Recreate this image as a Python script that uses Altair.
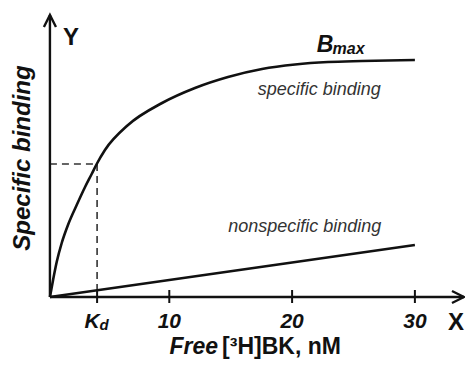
import altair as alt
import pandas as pd

# ---- data ----
spec_x = [0.28, 0.55, 0.83, 1.24, 1.78, 2.46, 3.14, 3.68, 4.09, 4.76, 6.64, 9.41, 12.09, 14.78, 17.55, 20.24, 22.92, 25.69, 30.0]
spec_y = [0, 18, 35, 54, 73, 92, 110, 123, 133, 147, 172, 194, 209, 220, 228, 232.5, 235, 236, 237]
nonspec_x = [0.28, 30.0]
nonspec_y = [0, 52]
tick_values = [10, 20, 30]
tick_labels = ["10", "20", "30"]
kd_value = 4.12
half_bmax = 133
axis_origin = 0.28
x_axis_end = 34.0
y_axis_end = 282

FONT = "Liberation Sans"
INK = "#111111"

XS = alt.Scale(domain=[-3.135, 34.08])
YS = alt.Scale(domain=[-64, 289])


def X(f="x"):
    return alt.X(f"{f}:Q", scale=XS, axis=None)


def Y(f="y"):
    return alt.Y(f"{f}:Q", scale=YS, axis=None)


# curves
spec_df = pd.DataFrame({"x": spec_x, "y": spec_y})
nonspec_df = pd.DataFrame({"x": nonspec_x, "y": nonspec_y})

specific = alt.Chart(spec_df).mark_line(color=INK, strokeWidth=2.6, interpolate="monotone").encode(x=X(), y=Y())
nonspecific = alt.Chart(nonspec_df).mark_line(color=INK, strokeWidth=2.6).encode(x=X(), y=Y())

# axes lines
axes_df = pd.DataFrame({
    "x": [axis_origin, axis_origin],
    "x2": [x_axis_end, axis_origin],
    "y": [0, 0],
    "y2": [0, y_axis_end],
})
axes = alt.Chart(axes_df).mark_rule(color=INK, strokeWidth=2.4).encode(
    x=X(), x2="x2:Q", y=Y(), y2="y2:Q")

# arrowheads (open chevrons)
arrow_df = pd.DataFrame({
    "g": ["x", "x", "x", "y", "y", "y"],
    "o": [0, 1, 2, 0, 1, 2],
    "x": [x_axis_end - 0.98, x_axis_end, x_axis_end - 0.98,
          axis_origin - 0.49, axis_origin, axis_origin + 0.49],
    "y": [6, 0, -6, y_axis_end - 12, y_axis_end, y_axis_end - 12],
})
arrows = alt.Chart(arrow_df).mark_line(color=INK, strokeWidth=2.4, strokeJoin="miter").encode(
    x=X(), y=Y(), detail="g:N", order="o:Q")

# ticks
tick_df = pd.DataFrame({"x": tick_values + [kd_value], "y": [-6] * 4, "y2": [7] * 4})
ticks = alt.Chart(tick_df).mark_rule(color=INK, strokeWidth=2).encode(x=X(), y=Y(), y2="y2:Q")

# dashed guide lines at Kd
dash_df = pd.DataFrame({
    "x": [axis_origin, kd_value],
    "x2": [kd_value, kd_value],
    "y": [half_bmax, half_bmax],
    "y2": [half_bmax, 0],
})
dashes = alt.Chart(dash_df).mark_rule(color="#333333", strokeWidth=1.6, strokeDash=[7, 5]).encode(
    x=X(), x2="x2:Q", y=Y(), y2="y2:Q")


def label(rows, **kw):
    df = pd.DataFrame(rows, columns=["x", "y", "t"])
    base = dict(font=FONT, color=INK)
    base.update(kw)
    return alt.Chart(df).mark_text(**base).encode(x=X(), y=Y(), text="t:N")


tick_text = label([[v, -31, t] for v, t in zip(tick_values, tick_labels)],
                  fontSize=21, fontWeight="bold", fontStyle="italic", align="center", baseline="alphabetic")
kd_K = label([[kd_value + 0.2, -31, "K"]], fontSize=21, fontWeight="bold", fontStyle="italic",
             align="right", baseline="alphabetic")
kd_d = label([[kd_value + 0.2, -33, "d"]], fontSize=15, fontWeight="bold", fontStyle="italic",
             align="left", baseline="alphabetic")
x_letter = label([[34.0, -33, "X"]], fontSize=24, fontWeight="bold", align="right", baseline="alphabetic")
y_letter = label([[2.0, 252, "Y"]], fontSize=24, fontWeight="bold", align="center", baseline="alphabetic")
x_title_a = label([[13.97, -57, "Free"]], fontSize=23, fontWeight="bold", fontStyle="italic",
                  align="right", baseline="alphabetic")
x_title_b = label([[14.3, -57, "[³H]BK, nM"]], fontSize=23, fontWeight="bold",
                  align="left", baseline="alphabetic")
y_title = label([[-1.34, 139, "Specific binding"]], fontSize=24, fontWeight="bold", fontStyle="italic",
                align="center", baseline="alphabetic", angle=270)
bmax_B = label([[22.0, 245, "B"]], fontSize=23, fontWeight="bold", fontStyle="italic",
               align="left", baseline="alphabetic")
bmax_sub = label([[23.3, 243, "max"]], fontSize=16, fontWeight="bold", fontStyle="italic",
                 align="left", baseline="alphabetic")
spec_text = label([[17.2, 202, "specific binding"]], fontSize=18, fontStyle="italic", color="#333333",
                  align="left", baseline="alphabetic")
nonspec_text = label([[14.8, 65, "nonspecific binding"]], fontSize=18, fontStyle="italic", color="#333333",
                     align="left", baseline="alphabetic")

chart = alt.layer(
    dashes, axes, arrows, ticks, specific, nonspecific,
    tick_text, kd_K, kd_d, x_letter, y_letter, x_title_a, x_title_b, y_title,
    bmax_B, bmax_sub, spec_text, nonspec_text,
).properties(
    width=457, height=353, padding=0,
    autosize=alt.AutoSizeParams(type="none"),
).configure_view(stroke=None)

chart.save("out.html", embed_options={"renderer": "svg", "actions": False})
